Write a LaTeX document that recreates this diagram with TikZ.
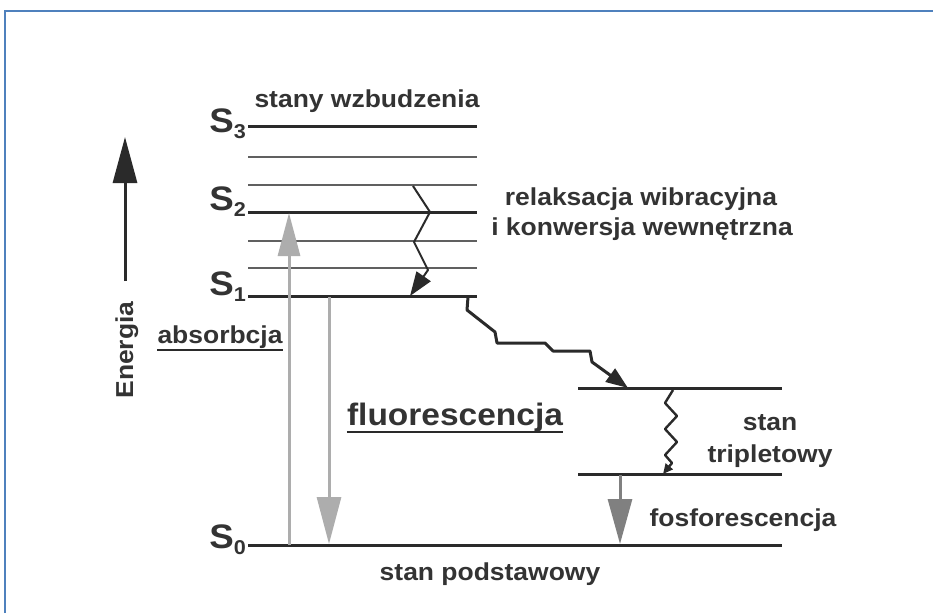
\documentclass[tikz,border=0pt]{standalone}
\usepackage{fontspec}
\setmainfont{Liberation Sans}[FakeStretch=1.08]
\usetikzlibrary{arrows.meta}
\definecolor{txt}{HTML}{333333}
\definecolor{lvl}{HTML}{2A2A2A}
\definecolor{thinlvl}{HTML}{606060}
\definecolor{framecol}{HTML}{4F81BD}
\definecolor{lightarrow}{HTML}{ADADAD}
\definecolor{midarrow}{HTML}{808080}
\newcommand\Slev[1]{S\raisebox{-6pt}{\fontsize{20}{21}\selectfont #1}}
\begin{document}
\begin{tikzpicture}[x=1pt,y=-1pt,
  lbl/.style={font=\fontsize{24.5}{28}\selectfont\bfseries, text=txt, inner sep=0pt, anchor=base},
  biglbl/.style={font=\fontsize{31}{34}\selectfont\bfseries, text=txt, inner sep=0pt, anchor=base},
  slbl/.style={font=\fontsize{34}{36}\selectfont\bfseries, text=txt, inner sep=0pt, anchor=base east},
  mainlevel/.style={draw=lvl, line width=3pt},
  sublevel/.style={draw=thinlvl, line width=2pt},
  underl/.style={draw=lvl, line width=2pt},
  wiggle/.style={draw=lvl, line width=2pt, line join=round},
  transfer/.style={draw=lvl, line width=3pt, line join=round},
  radiative/.style={line width=3pt},
]
\useasboundingbox (0,0) rectangle (933,613);
\fill[white] (0,0) rectangle (933,613);
\draw[framecol, line width=2.4pt] (5,613) -- (5,11) -- (933,11);

% singlet levels
\coordinate (S3a) at (248,126); \coordinate (S3b) at (477,126);
\coordinate (V3a) at (248,157); \coordinate (V3b) at (477,157);
\coordinate (V2a) at (248,185); \coordinate (V2b) at (477,185);
\coordinate (S2a) at (248,212); \coordinate (S2b) at (477,212);
\coordinate (V1a) at (248,241); \coordinate (V1b) at (477,241);
\coordinate (V0a) at (248,268); \coordinate (V0b) at (477,268);
\coordinate (S1a) at (248,296); \coordinate (S1b) at (477,296);
\coordinate (S0a) at (248,545); \coordinate (S0b) at (782,545);
\coordinate (T1a) at (578,388); \coordinate (T1b) at (782,388);
\coordinate (T0a) at (578,474); \coordinate (T0b) at (782,474);

\draw[mainlevel] (S3a) -- (S3b);
\draw[sublevel] (V3a) -- (V3b);
\draw[sublevel] (V2a) -- (V2b);
\draw[mainlevel] (S2a) -- (S2b);
\draw[sublevel] (V1a) -- (V1b);
\draw[sublevel] (V0a) -- (V0b);
\draw[mainlevel] (S1a) -- (S1b);
\draw[mainlevel] (S0a) -- (S0b);
\draw[mainlevel] (T1a) -- (T1b);
\draw[mainlevel] (T0a) -- (T0b);

% level labels
\node[slbl] (LS3) at (246,132) {\Slev{3}};
\node[slbl] (LS2) at (246,210) {\Slev{2}};
\node[slbl] (LS1) at (246,295) {\Slev{1}};
\node[slbl] (LS0) at (246,548) {\Slev{0}};

% energy axis
\coordinate (E0) at (125,281);
\coordinate (E1) at (125,137);
\draw[draw=lvl, line width=3pt, -{Triangle[length=46pt,width=24pt]}] (E0) -- (E1);
\node[lbl, rotate=90] (energia) at (133,350) {Energia};

% vibrational relaxation
\coordinate (r1) at (413,186);
\coordinate (r2) at (430,212);
\coordinate (r3) at (414,242);
\coordinate (r4) at (428,270);
\coordinate (r5) at (410,296);
\draw[wiggle, -{Triangle[length=24pt,width=17pt]}] (r1) -- (r2) -- (r3) -- (r4) -- (r5);

% intersystem crossing
\coordinate (c1) at (468,297);
\coordinate (c2) at (467,310);
\coordinate (c3) at (495,332);
\coordinate (c4) at (497,343);
\coordinate (c5) at (545,343);
\coordinate (c6) at (553,351);
\coordinate (c7) at (590,351);
\coordinate (c8) at (592,362);
\coordinate (c9) at (628,388);
\draw[transfer, -{Triangle[length=22pt,width=16pt]}] (c1) -- (c2) -- (c3) -- (c4) -- (c5) -- (c6) -- (c7) -- (c8) -- (c9);

% triplet relaxation
\coordinate (t1) at (673,390);
\coordinate (t2) at (665,403);
\coordinate (t3) at (677,416);
\coordinate (t4) at (665,429);
\coordinate (t5) at (677,442);
\coordinate (t6) at (665,455);
\coordinate (t7) at (672,463);
\coordinate (t8) at (663,474);
\draw[wiggle, line width=2.4pt, -{Triangle[length=10pt,width=9pt]}] (t1) -- (t2) -- (t3) -- (t4) -- (t5) -- (t6) -- (t7) -- (t8);

% radiative transitions
\coordinate (a0) at (289,545);
\coordinate (a1) at (289,213);
\draw[radiative, lightarrow, -{Triangle[length=43pt,width=22pt]}] (a0) -- (a1);
\coordinate (f0) at (329,297);
\coordinate (f1) at (329,544);
\draw[radiative, lightarrow, -{Triangle[length=47pt,width=24pt]}] (f0) -- (f1);
\coordinate (p0) at (620,475);
\coordinate (p1) at (620,544);
\draw[radiative, midarrow, -{Triangle[length=45pt,width=24pt]}] (p0) -- (p1);

% texts
\node[lbl] (stany) at (367,107) {stany wzbudzenia};
\node[lbl] (relax1) at (641,205) {relaksacja wibracyjna};
\node[lbl] (relax2) at (642,235) {i konwersja wewnętrzna};
\node[lbl] (absorb) at (220,343) {absorbcja};
\draw[underl] ([yshift=-7pt]absorb.base west) -- ([yshift=-7pt]absorb.base east);
\node[biglbl] (fluo) at (455,425) {fluorescencja};
\draw[underl] ([yshift=-7pt]fluo.base west) -- ([yshift=-7pt]fluo.base east);
\node[lbl] (stan) at (770,430) {stan};
\node[lbl] (triplet) at (770,462) {tripletowy};
\node[lbl] (fosfo) at (743,526) {fosforescencja};
\node[lbl] (podst) at (490,580) {stan podstawowy};
\end{tikzpicture}
\end{document}
